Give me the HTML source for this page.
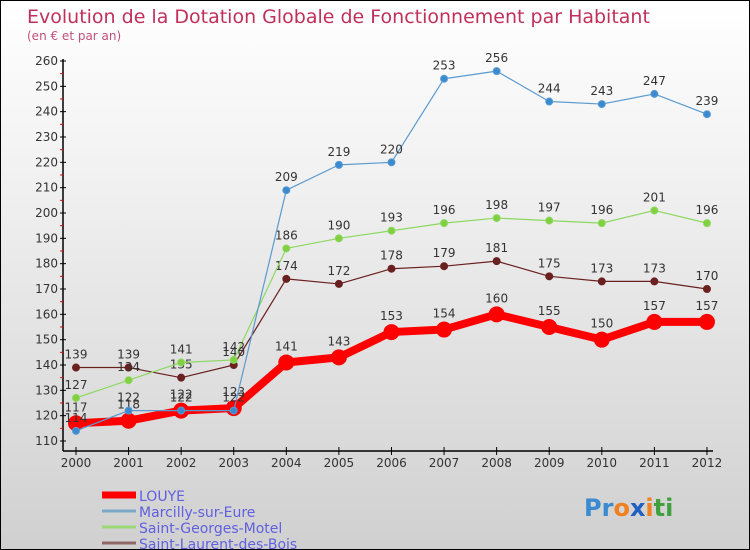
<!DOCTYPE html>
<html><head><meta charset="utf-8"><style>
body{margin:0}
#c{width:748px;height:548px;border:1px solid #000;background:linear-gradient(#fff,#f2f2f2 30%,#d0d0d0);position:relative;font-family:"DejaVu Sans","Liberation Sans",sans-serif;overflow:hidden}
svg{position:absolute;left:0;top:0}
</style></head><body>
<div id="c">
<svg id="s" width="750" height="550"></svg>
</div>
<script>
const years=[2000,2001,2002,2003,2004,2005,2006,2007,2008,2009,2010,2011,2012];
const louye=[117,118,122,123,141,143,153,154,160,155,150,157,157];
const marcilly=[114,122,122,122,209,219,220,253,256,244,243,247,239];
const sgm=[127,134,141,142,186,190,193,196,198,197,196,201,196];
const slb=[139,139,135,140,174,172,178,179,181,175,173,173,170];
const yTicks=[110,120,130,140,150,160,170,180,190,200,210,220,230,240,250,260];
const seriesNames=["LOUYE","Marcilly-sur-Eure","Saint-Georges-Motel","Saint-Laurent-des-Bois"];
const NS="http://www.w3.org/2000/svg",s=document.getElementById('s');
const X=i=>75+i*52.58, Y=v=>440-(v-110)*380/150;
function el(t,a,p){const e=document.createElementNS(NS,t);for(const k in a)e.setAttribute(k,a[k]);(p||s).appendChild(e);return e;}
let t=el('text',{x:26,y:22,fill:'#c0305a','font-size':19});t.textContent='Evolution de la Dotation Globale de Fonctionnement par Habitant';

t=el('text',{x:26,y:39,fill:'#c0507a','font-size':12});t.textContent='(en € et par an)';

// axes
let a=el('line',{x1:62,y1:58,x2:62,y2:450,stroke:'#000','stroke-width':1.5});
a=el('line',{x1:62,y1:450,x2:712,y2:450,stroke:'#000','stroke-width':1.5});
yTicks.forEach(v=>{el('line',{x1:59,y1:Y(v),x2:65,y2:Y(v),stroke:'#000'});
 if(v<260)el('line',{x1:59,y1:Y(v+5),x2:62,y2:Y(v+5),stroke:'#e00'});
 const tt=el('text',{x:57,y:Y(v)+4,'text-anchor':'end','font-size':12,fill:'#333'});tt.textContent=v;
 });
years.forEach((y,i)=>{el('line',{x1:X(i),y1:446,x2:X(i),y2:454,stroke:'#000'});
 const tt=el('text',{x:X(i),y:466,'text-anchor':'middle','font-size':12,fill:'#333'});tt.textContent=y;
 });
function series(d,col,dot,w,r,name){
 const p=el('polyline',{points:d.map((v,i)=>X(i)+','+Y(v)).join(' '),fill:'none',stroke:col,'stroke-width':w,'stroke-linejoin':'round'});
 
 d.forEach((v,i)=>{const c=el('circle',{cx:X(i),cy:Y(v),r:r,fill:dot,stroke:col,'stroke-width':w>3?0:1});
  
  const tt=el('text',{x:X(i),y:Y(v)-(w>3?12:9),'text-anchor':'middle','font-size':12,fill:'#333'});tt.textContent=v;
  });
}
series(slb,'#6b2020','#6b2020',1.2,3.5,'saint-laurent');
series(sgm,'#8cd860','#80d040',1.2,3.5,'saint-georges');
series(louye,'#f00','#f00',8,8,'louye');
series(marcilly,'#5a9ad0','#3a8ad0',1.2,3.5,'marcilly');
// legend
const cols=['#f00','#7aa8c8','#9ad878','#906868'],ws=[7,3,3,3];
seriesNames.forEach((n,i)=>{const y=494+i*16;
 const l=el('line',{x1:101,y1:y,x2:135,y2:y,stroke:cols[i],'stroke-width':ws[i]});
 
 const tt=el('text',{x:138,y:y+6,'font-size':14,fill:'#6060e0'});tt.textContent=n;
 });
const lg=el('text',{x:583,y:515,'font-size':24,'font-weight':'bold'});
[['P','#3a8ad0'],['r','#3a8ad0'],['o','#f08020'],['x','#2060c0'],['i','#f08020'],['t','#40a040'],['i','#40a040']].forEach(([c,f])=>{const ts=el('tspan',{fill:f},lg);ts.textContent=c;});
</script>
</body></html>
